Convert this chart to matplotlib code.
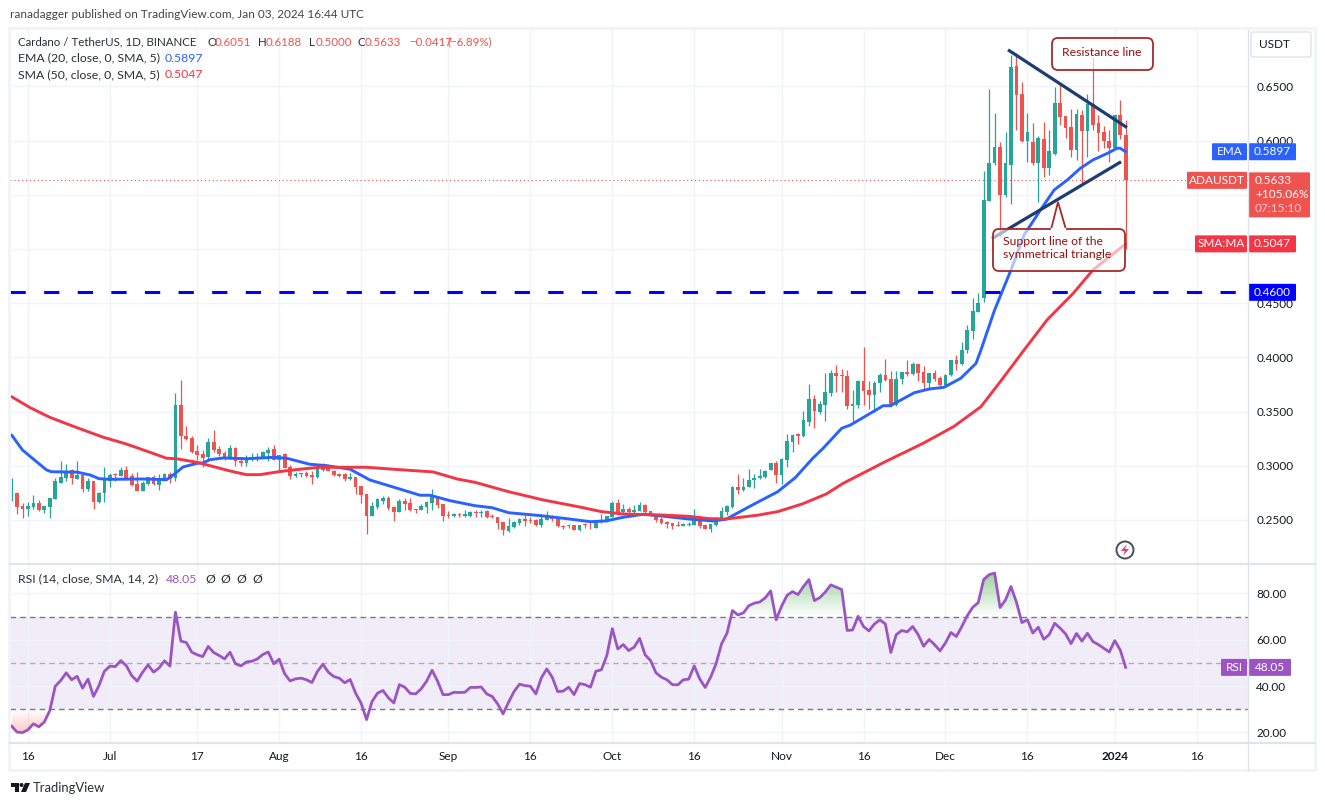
import matplotlib
matplotlib.use("Agg")
import numpy as np
import matplotlib.pyplot as plt
from matplotlib.patches import FancyBboxPatch, Polygon, Rectangle, Circle
from matplotlib.path import Path

plt.rcParams['font.family'] = ['Lato', 'DejaVu Sans']

# daily candles, first one is 13 Jun 2023, last one 3 Jan 2024
opens = [
    .2745, .2752, .2630, .2603, .2620, .2654, .2592, .2623, .2695, .2845,
    .2885, .2960, .2880, .2915, .2785, .2860, .2665, .2745, .2860, .2920,
    .2905, .2960, .2910, .2830, .2770, .2835, .2895, .2820, .2860, .2925,
    .2885, .3560, .3275, .3255, .3135, .3105, .3080, .3220, .3155, .3115,
    .3070, .3165, .3045, .3025, .3060, .3060, .3085, .3120, .3155, .3055,
    .3110, .2990, .2910, .2925, .2935, .2915, .2895, .2960, .3005, .2955,
    .2925, .2920, .2875, .2900, .2815, .2740, .2535, .2620, .2675, .2705,
    .2620, .2575, .2675, .2660, .2600, .2590, .2620, .2660, .2725, .2645,
    .2545, .2535, .2555, .2540, .2535, .2575, .2565, .2580, .2535, .2525,
    .2485, .2400, .2435, .2475, .2505, .2500, .2500, .2455, .2500, .2535,
    .2510, .2440, .2440, .2450, .2405, .2460, .2445, .2430, .2480, .2485,
    .2530, .2660, .2570, .2605, .2575, .2585, .2640, .2585, .2555, .2510,
    .2485, .2470, .2450, .2445, .2455, .2455, .2510, .2450, .2415, .2450,
    .2500, .2575, .2620, .2805, .2780, .2800, .2865, .2885, .2895, .2960,
    .3030, .2915, .3050, .3220, .3295, .3275, .3405, .3620, .3500, .3560,
    .3675, .3855, .3835, .3830, .3550, .3560, .3785, .3700, .3655, .3760,
    .3840, .3800, .3560, .3800, .3865, .3845, .3935, .3865, .3760, .3860,
    .3810, .3745, .3835, .3975, .3935, .4070, .4245, .4420, .4550, .5445,
    .5790, .5945, .5500, .5775, .6685, .6430, .5995, .5990, .5795, .6015,
    .5750, .5880, .6345, .6225, .6125, .5915, .6235, .6085, .6340, .6160,
    .6075, .5995, .5930, .6235, .6051]
highs = [
    .2887, .2760, .2654, .2665, .2730, .2685, .2630, .2703, .2885, .3040,
    .3020, .2970, .3040, .2930, .2885, .2860, .2760, .2990, .2930, .2935,
    .2985, .3000, .2930, .2940, .2855, .2900, .2915, .2925, .2935, .2940,
    .3670, .3795, .3370, .3275, .3190, .3145, .3255, .3330, .3185, .3135,
    .3190, .3170, .3075, .3100, .3120, .3120, .3140, .3175, .3190, .3100,
    .3115, .3005, .2945, .2930, .2950, .2950, .3020, .3025, .3010, .2960,
    .2935, .2935, .2930, .2900, .2815, .2740, .2670, .2705, .2725, .2725,
    .2630, .2690, .2705, .2700, .2600, .2650, .2675, .2790, .2725, .2645,
    .2585, .2560, .2565, .2590, .2580, .2590, .2590, .2590, .2555, .2525,
    .2485, .2515, .2490, .2515, .2545, .2525, .2505, .2555, .2580, .2545,
    .2525, .2450, .2460, .2450, .2455, .2475, .2485, .2500, .2555, .2540,
    .2675, .2690, .2645, .2620, .2635, .2665, .2650, .2585, .2555, .2525,
    .2490, .2470, .2490, .2470, .2480, .2600, .2510, .2465, .2460, .2530,
    .2615, .2640, .2810, .2925, .2890, .2970, .2925, .2970, .2965, .3025,
    .3040, .3075, .3295, .3295, .3305, .3505, .3750, .3655, .3595, .3855,
    .3880, .3925, .3895, .3880, .3700, .3795, .4095, .3785, .3780, .3860,
    .3985, .3875, .3875, .3865, .3975, .3955, .3940, .3920, .3860, .3885,
    .3830, .3850, .3980, .4020, .4140, .4300, .4545, .4595, .5720, .6475,
    .6250, .5985, .6080, .6790, .6805, .6540, .6255, .6160, .6040, .6170,
    .6100, .6495, .6513, .6225, .6295, .6290, .6285, .6430, .6770, .6240,
    .6135, .6100, .6240, .6375, .6188]
lows = [
    .2675, .2555, .2521, .2538, .2601, .2585, .2568, .2520, .2690, .2845,
    .2860, .2835, .2880, .2755, .2770, .2600, .2660, .2666, .2805, .2855,
    .2905, .2870, .2810, .2765, .2765, .2820, .2820, .2775, .2860, .2840,
    .2855, .3155, .3235, .3115, .3055, .2992, .3065, .3125, .3090, .3055,
    .3060, .3001, .3000, .3000, .3040, .3040, .3075, .3040, .3055, .2945,
    .2975, .2875, .2895, .2895, .2895, .2835, .2885, .2950, .2950, .2910,
    .2895, .2860, .2865, .2735, .2655, .2371, .2535, .2600, .2645, .2595,
    .2490, .2575, .2595, .2580, .2565, .2590, .2565, .2595, .2610, .2490,
    .2515, .2530, .2530, .2530, .2525, .2525, .2525, .2520, .2520, .2420,
    .2360, .2390, .2430, .2455, .2445, .2475, .2445, .2435, .2500, .2490,
    .2435, .2420, .2430, .2405, .2400, .2430, .2420, .2430, .2475, .2485,
    .2525, .2550, .2560, .2525, .2560, .2585, .2565, .2540, .2485, .2465,
    .2430, .2415, .2445, .2445, .2445, .2455, .2430, .2415, .2390, .2445,
    .2500, .2550, .2610, .2735, .2765, .2800, .2795, .2880, .2890, .2960,
    .2845, .2830, .2985, .3125, .3205, .3265, .3365, .3345, .3480, .3410,
    .3640, .3680, .3680, .3525, .3395, .3530, .3560, .3525, .3500, .3685,
    .3780, .3540, .3550, .3755, .3830, .3835, .3780, .3700, .3695, .3780,
    .3715, .3735, .3825, .3880, .3925, .4040, .4170, .4415, .4510, .5440,
    .5775, .5110, .5480, .5415, .6100, .5990, .5805, .5775, .5435, .5665,
    .5680, .5865, .6145, .6025, .5850, .5820, .5609, .5850, .6100, .5900,
    .5930, .5805, .5925, .6015, .5000]
closes = [
    .2750, .2623, .2605, .2630, .2657, .2592, .2630, .2700, .2860, .2895,
    .2950, .2885, .2915, .2785, .2860, .2665, .2750, .2885, .2915, .2912,
    .2960, .2885, .2820, .2770, .2845, .2895, .2835, .2885, .2925, .2875,
    .3560, .3270, .3245, .3125, .3100, .3075, .3220, .3145, .3105, .3075,
    .3165, .3040, .3025, .3060, .3070, .3085, .3130, .3145, .3055, .3100,
    .2980, .2910, .2925, .2930, .2910, .2900, .3005, .3015, .2955, .2915,
    .2905, .2875, .2900, .2805, .2730, .2535, .2630, .2695, .2705, .2610,
    .2575, .2675, .2645, .2590, .2595, .2630, .2665, .2725, .2640, .2535,
    .2540, .2555, .2545, .2555, .2575, .2565, .2575, .2530, .2525, .2470,
    .2410, .2445, .2485, .2510, .2495, .2490, .2455, .2510, .2535, .2510,
    .2440, .2435, .2450, .2405, .2450, .2450, .2440, .2485, .2490, .2535,
    .2660, .2565, .2605, .2570, .2595, .2640, .2575, .2545, .2500, .2470,
    .2465, .2445, .2445, .2460, .2465, .2520, .2445, .2415, .2460, .2520,
    .2585, .2630, .2805, .2780, .2805, .2870, .2890, .2905, .2950, .3025,
    .2915, .3060, .3225, .3285, .3275, .3420, .3615, .3505, .3570, .3680,
    .3855, .3830, .3825, .3550, .3570, .3785, .3690, .3655, .3765, .3840,
    .3795, .3550, .3800, .3865, .3845, .3935, .3860, .3765, .3860, .3805,
    .3745, .3835, .3975, .3940, .4070, .4250, .4430, .4505, .5450, .5790,
    .5945, .5500, .5795, .6680, .6420, .5995, .6080, .5795, .6025, .5745,
    .5900, .6350, .6215, .6115, .5915, .6245, .6085, .6340, .6145, .6070,
    .5995, .5930, .6235, .6050, .5633]

# moving averages, read at the bends only
ema_days = [0, 2, 6.4, 7.3, 12, 14.4, 16, 18, 24, 28.4, 29.6, 31.4, 34, 35, 36.3, 38.8,
            43, 48, 50.4, 54.6, 57.7, 62, 65.6, 70, 74.8, 76.6, 80.3, 84.8, 88, 91,
            96.8, 101, 106, 108.8, 112, 115.7, 118.9, 124, 128.3, 130.8, 135.3, 140.3,
            143.5, 146.7, 148.6, 152, 153.6, 156, 159.6, 160.9, 165.3, 168, 170.7,
            173.8, 176.6, 177.5, 180, 181, 183, 185.4, 188.4, 190.9, 193.3, 195.7,
            198, 200.9, 202.4, 203, 204]
ema_values = [.3284, .3145, .2961, .2945, .2941, .2915, .2881, .2875, .2878, .2872, .2915,
              .2989, .3023, .3026, .3056, .3072, .3065, .3078, .3069, .3014, .3001, .2968,
              .2869, .2802, .2728, .2728, .2678, .2632, .2613, .2567, .2540, .2516, .2484,
              .2491, .2525, .2553, .2537, .2509, .2491, .2506, .2629, .2761, .2890, .3069,
              .3161, .3346, .3376, .3447, .3554, .3554, .3674, .3708, .3723, .3807, .3945,
              .4068, .4437, .4560, .4806, .5129, .5360, .5544, .5636, .5744, .5821, .5888,
              .5929, .5929, .5897]
sma_days = [0, 3.4, 7, 12, 16.8, 21, 25.3, 28.4, 30.2, 33.9, 36.3, 40, 43, 45.5, 49, 52.8,
            56.5, 65, 69.9, 77.2, 81.6, 84.8, 91, 97.4, 103.7, 108, 112, 118.9, 123.9,
            127.8, 130.8, 136.5, 140.3, 144.8, 149.2, 152.3, 160, 166.9, 172.5, 177.5,
            181, 185.4, 189.6, 194.4, 198, 204]
sma_values = [.3637, .3536, .3447, .3351, .3263, .3201, .3125, .3069, .3065, .3032, .3001,
              .2952, .2918, .2918, .2946, .2968, .2986, .2986, .2968, .2943, .2878, .2848,
              .2761, .2684, .2623, .2577, .2555, .2546, .2534, .2512, .2509, .2543, .2577,
              .2648, .2740, .2839, .3038, .3207, .3361, .3545, .3773, .4068, .4345, .4591,
              .4806, .5047]

rsi = [
    22.7, 20.1, 19.9, 21.1, 23.7, 22.4, 24.5, 29.4, 39.9, 42.4,
    45.7, 42.7, 44.2, 39.1, 43.0, 35.5, 40.2, 46.4, 48.6, 48.4,
    51.0, 48.8, 44.5, 42.1, 46.0, 49.1, 46.0, 47.8, 50.9, 48.6,
    71.9, 59.4, 58.8, 54.6, 53.5, 52.7, 57.1, 54.5, 53.2, 51.7,
    54.6, 49.6, 48.7, 50.4, 50.7, 51.7, 53.6, 54.7, 49.6, 51.6,
    45.3, 42.2, 43.1, 43.4, 42.7, 41.5, 46.3, 49.4, 46.0, 44.1,
    43.4, 41.4, 42.8, 36.9, 32.6, 25.5, 33.3, 36.9, 38.1, 34.9,
    32.7, 40.6, 39.5, 36.8, 36.6, 38.8, 42.1, 46.8, 42.1, 36.3,
    36.3, 37.3, 37.2, 37.3, 39.4, 39.4, 39.6, 36.6, 35.5, 32.3,
    28.0, 33.0, 37.6, 40.8, 40.2, 39.9, 36.6, 43.5, 47.4, 43.8,
    37.6, 37.8, 39.5, 36.3, 41.1, 40.6, 39.5, 46.4, 47.0, 53.2,
    64.8, 56.0, 57.9, 55.3, 56.8, 60.6, 53.5, 51.0, 45.7, 43.8,
    42.7, 40.6, 40.5, 42.7, 43.0, 48.7, 43.1, 39.4, 43.8, 49.6,
    58.2, 62.8, 72.6, 70.7, 71.6, 74.7, 75.8, 76.3, 78.1, 81.1,
    68.6, 74.5, 79.2, 80.8, 79.5, 83.0, 86.0, 76.9, 78.2, 80.6,
    83.7, 82.7, 81.7, 64.0, 64.2, 70.1, 65.7, 63.8, 66.8, 68.6,
    66.8, 54.5, 62.2, 64.0, 63.4, 65.7, 62.2, 57.2, 60.1, 57.9,
    55.2, 58.6, 63.1, 61.4, 65.7, 70.4, 74.0, 76.0, 86.0, 88.1,
    88.8, 73.9, 77.2, 83.0, 76.2, 67.4, 68.6, 62.9, 65.4, 60.2,
    62.2, 67.1, 65.0, 62.5, 58.3, 62.7, 59.4, 62.8, 59.2, 57.9,
    56.3, 54.7, 59.6, 55.6, 48.05]

# trend lines and the horizontal level drawn by the author
resistance_days = [182.7, 204]
resistance_prices = [.6829, .6128]
support_days = [179.8, 202.9]
support_prices = [.5104, .5797]
level_price = 0.46

price_ticks = [.25, .30, .35, .40, .45, .50, .55, .60, .65]
price_tick_labels = ['0.2500', '0.3000', '0.3500', '0.4000', '0.4500', '', '', '0.6000', '0.6500']
rsi_ticks = [20, 40, 60, 80]
date_tick_days = [3, 18, 34, 49, 64, 80, 95, 110, 125, 141, 156, 171, 186, 202, 217]
date_tick_labels = ['16', 'Jul', '17', 'Aug', '16', 'Sep', '16', 'Oct', '16', 'Nov', '16',
                    'Dec', '16', '2024', '16']

last_close = closes[-1]
last_ema = ema_values[-1]
last_sma = sma_values[-1]
last_rsi = rsi[-1]

GREEN = '#26a69a'
RED = '#ef5350'
BLUE = '#2962ff'
SMA_RED = '#f23645'
PURPLE = '#9c54c4'
GRID = '#f0f3fa'
BORDER = '#e0e3eb'
TEXT = '#131722'
NOTE = '#990f0f'
NAVY = '#1c3d72'
FS = 8.5

W, H = 1325, 805
fig = plt.figure(figsize=(W / 100, H / 100), dpi=100, facecolor='white')


def pane(x0, y0, x1, y1):
    return fig.add_axes([x0 / W, 1 - y1 / H, (x1 - x0) / W, (y1 - y0) / H])


days = np.arange(len(closes))
ax = pane(10, 30, 1248, 563)
ax2 = pane(10, 564, 1248, 743)

# price pane
ax.set_xlim(-0.29, 226.4)
ax.set_ylim(.2103, .7020)
ax.set_axisbelow(True)
ax.grid(True, color=GRID, lw=1)
ax.set_xticks(date_tick_days)
ax.set_yticks(price_ticks)
ax.set_yticklabels(price_tick_labels, fontsize=FS, color=TEXT)
ax.yaxis.tick_right()
ax.tick_params(length=0, pad=6, labelbottom=False)

for i in days:
    col = GREEN if closes[i] >= opens[i] else RED
    ax.vlines(i, lows[i], highs[i], color=col, lw=0.9, zorder=2)
    ax.bar(i, max(abs(closes[i] - opens[i]), .0008), bottom=min(opens[i], closes[i]),
           width=0.68, color=col, lw=0, zorder=3)

ax.plot(ema_days, ema_values, color=BLUE, lw=2.1, zorder=4, solid_capstyle='round')
ax.plot(sma_days, sma_values, color=SMA_RED, lw=2.1, zorder=4, solid_capstyle='round')
ax.plot(resistance_days, resistance_prices, color=NAVY, lw=2.3, zorder=5)
ax.plot(support_days, support_prices, color=NAVY, lw=2.3, zorder=5)
ax.axhline(level_price, color='#0000ff', lw=2.2, ls=(0, (5, 6)), zorder=5)
ax.axhline(last_close, color=RED, lw=0.8, ls=(0, (1, 2.5)), zorder=1)

# rsi pane
rsi = np.array(rsi)
ax2.set_xlim(-0.29, 226.4)
ax2.set_ylim(15.4, 92.7)
ax2.set_axisbelow(True)
ax2.grid(True, color=GRID, lw=1)
ax2.set_xticks(date_tick_days)
ax2.set_xticklabels(date_tick_labels, fontsize=FS, color=TEXT)
ax2.get_xticklabels()[13].set_fontweight('bold')
ax2.set_yticks(rsi_ticks)
ax2.set_yticklabels(['%.2f' % r for r in rsi_ticks], fontsize=FS, color=TEXT)
ax2.yaxis.tick_right()
ax2.tick_params(length=0, pad=6)
ax2.tick_params(axis='x', pad=6)

ax2.axhspan(30, 70, color='#7e57c2', alpha=0.1, lw=0, zorder=0)
ax2.axhline(70, color='#787b86', lw=1, ls=(0, (4, 3)), zorder=1)
ax2.axhline(50, color='#787b86', lw=1, ls=(0, (4, 3)), alpha=0.55, zorder=1)
ax2.axhline(30, color='#787b86', lw=1, ls=(0, (4, 3)), zorder=1)


def gradient_fill(where, base, far, rgb, top_alpha):
    # overbought/oversold shading fades towards the dashed line
    coll = ax2.fill_between(days, rsi, base, where=where, interpolate=True, color='none', lw=0)
    ramp = np.linspace(0, top_alpha, 64)[:, None]
    img = np.zeros((64, 1, 4))
    img[..., :3] = rgb
    img[..., 3] = ramp
    lo, hi = min(base, far), max(base, far)
    if base > far:
        img = img[::-1]
    im = ax2.imshow(img, extent=[days[0], days[-1], lo, hi], aspect='auto', origin='lower', zorder=1)
    im.set_clip_path(Path.make_compound_path(*coll.get_paths()), ax2.transData)


gradient_fill(rsi > 70, 70, 90, (0.30, 0.69, 0.31), 0.6)
gradient_fill(rsi < 30, 30, 19, (0.94, 0.33, 0.31), 0.35)
ax2.plot(days, rsi, color=PURPLE, lw=2.0, zorder=4)
ax2.set_xlim(-0.29, 226.4)
ax2.set_ylim(15.4, 92.7)

for a in (ax, ax2):
    for s in a.spines.values():
        s.set_visible(False)

# everything around the panes is placed in picture pixels
top = fig.add_axes([0, 0, 1, 1], zorder=10)
top.set_xlim(0, W)
top.set_ylim(H, 0)
top.axis('off')


def price_y(p):
    return H - ax.transData.transform((0, p))[1]


def rsi_y(r):
    return H - ax2.transData.transform((0, r))[1]


def label(x, y, s, color=TEXT, size=FS, ha='left', **kw):
    top.text(x, y, s, color=color, fontsize=size, ha=ha, va='center', **kw)


def pill(x0, x1, yc, h, color, s):
    top.add_patch(FancyBboxPatch((x0 + 1, yc - h / 2 + 1), x1 - x0 - 2, h - 2, boxstyle='round,pad=1',
                                 fc=color, ec='none'))
    label((x0 + x1) / 2, yc, s, color='white', ha='center')


# frame and pane borders
top.add_patch(Rectangle((9, 28), 1306, 742, fc='none', ec=GRID, lw=2))
top.plot([1248, 1248], [30, 770], color=BORDER, lw=1)
top.plot([10, 1315], [563.5, 563.5], color=BORDER, lw=1.5)
top.plot([10, 1315], [743, 743], color=BORDER, lw=1.5)

# header
label(10, 15, 'ranadagger published on TradingView.com, Jan 03, 2024 16:44 UTC', color='#444444', size=8.5)
label(18, 42, 'Cardano / TetherUS, 1D, BINANCE', color='#2a2e39', size=8.3)
for x, s in [(207, 'O'), (258, 'H'), (309, 'L'), (358, 'C')]:
    label(x, 42, s, color='#2a2e39', size=8.3)
for x, s in [(215, '%.4f' % opens[-1]), (266, '%.4f' % highs[-1]), (316, '%.4f' % lows[-1]),
             (365, '%.4f' % last_close), (409, '\u22120.0417'), (448, '(\u22126.89%)')]:
    label(x, 42, s, color=RED, size=8.3)
label(18, 58, 'EMA (20, close, 0, SMA, 5)', color='#2a2e39', size=8.8)
label(165, 58, '%.4f' % last_ema, color=BLUE, size=8.8)
label(18, 75, 'SMA (50, close, 0, SMA, 5)', color='#2a2e39', size=8.8)
label(165, 75, '%.4f' % last_sma, color=SMA_RED, size=8.8)
label(18, 579, 'RSI (14, close, SMA, 14, 2)', color='#2a2e39', size=8.8)
label(166, 579, '%.2f' % last_rsi, color=PURPLE, size=8.8)
for x in [205, 220, 236, 252]:
    label(x, 579, '\u00d8', color='#2a2e39', size=8.8)

top.add_patch(FancyBboxPatch((1253, 34), 56, 21, boxstyle='round,pad=2', fc='white', ec=BORDER, lw=1))
label(1274, 45, 'USDT', ha='center')

# value pills on the right axis
y = price_y(last_ema)
pill(1212, 1247, y, 17, BLUE, 'EMA')
pill(1248, 1296, y, 17, BLUE, '%.4f' % last_ema)
y = price_y(last_close)
pill(1187, 1247, y, 17, RED, 'ADAUSDT')
top.add_patch(FancyBboxPatch((1249, y - 7), 60, 43, boxstyle='round,pad=1', fc=RED, ec='none'))
label(1255, y, '%.4f' % last_close, color='white')
label(1255, y + 14.5, '+105.06%', color='white')
label(1255, y + 28.5, '07:15:10', color='#fbc9c7')
y = price_y(last_sma)
pill(1195, 1247, y, 17, SMA_RED, 'SMA:MA')
pill(1248, 1296, y, 17, SMA_RED, '%.4f' % last_sma)
pill(1248, 1296, price_y(level_price), 17, '#0000ff', '%.4f' % level_price)
y = rsi_y(last_rsi)
pill(1221, 1247, y, 17, PURPLE, 'RSI')
pill(1248, 1291, y, 17, PURPLE, '%.2f' % last_rsi)

# callouts
top.add_patch(FancyBboxPatch((1058, 44), 89, 20, boxstyle='round,pad=6', fc=(1, 1, 1, 0.65), ec='#a52a2a', lw=1.3))
label(1102, 53, 'Resistance line', color=NOTE, size=8.8, ha='center')

top.add_patch(FancyBboxPatch((999, 235), 120, 30, boxstyle='round,pad=6', fc=(1, 1, 1, 0.62), ec='#a52a2a', lw=1.3))
top.add_patch(Polygon([(1051, 229.6), (1058, 202), (1066, 229.6)], closed=False, fc=(1, 1, 1, 0.0), ec='#a52a2a', lw=1.3))
top.plot([1052, 1065], [229.5, 229.5], color='white', lw=1.6)
label(1003, 241, 'Support line of the', color=NOTE, size=8.8)
label(1003, 254, 'symmetrical triangle', color=NOTE, size=8.8)

# lightning mark
top.add_patch(Circle((1125, 550), 8.5, fc='white', ec='#4a4e5a', lw=1.4))
top.add_patch(Polygon([(1127, 544), (1121, 551), (1125, 551), (1123, 556), (1129, 549), (1125, 549)],
                      fc='#e6397a', ec='none'))

# logo
top.add_patch(Polygon([(10.5, 783), (19, 783), (19, 792), (15, 792), (15, 787), (10.5, 787)], fc='#131722', ec='none'))
top.add_patch(Circle((21.5, 785), 2, fc='#131722', ec='none'))
top.add_patch(Polygon([(25, 783), (30, 783), (26, 792), (21, 792)], fc='#131722', ec='none'))
label(33, 787.5, 'TradingView', color='#2a2e39', size=9.4)

fig.savefig('out.png', dpi=100)
